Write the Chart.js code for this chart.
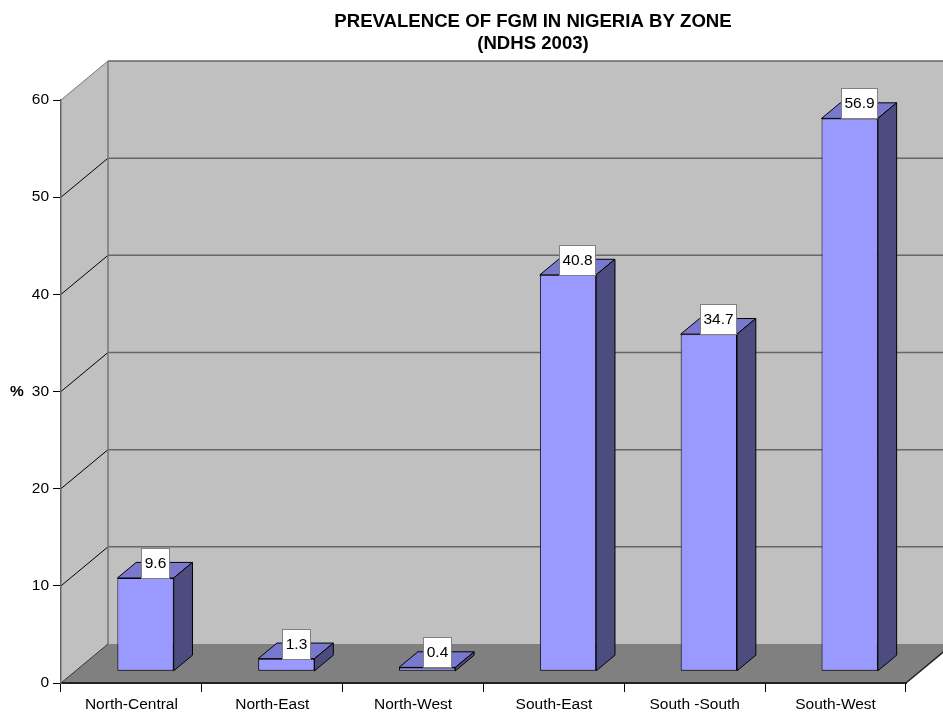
<!DOCTYPE html>
<html>
<head>
<meta charset="utf-8">
<script src="https://cdn.jsdelivr.net/npm/chart.js@4.4.1/dist/chart.umd.min.js"></script>
<style>
  body { margin: 0; background: #fff; }
</style>
</head>
<body>
<canvas id="myChart" width="943" height="714"></canvas>
<script>
const zones = ['North-Central', 'North-East', 'North-West', 'South-East', 'South -South', 'South-West'];
const prevalence = [9.6, 1.3, 0.4, 40.8, 34.7, 56.9];
const yTicks = [0, 10, 20, 30, 40, 50, 60];
const titleLines = ['PREVALENCE OF FGM IN NIGERIA BY ZONE', '(NDHS 2003)'];
const yTitle = '%';

const FONT = '"Liberation Sans", Arial, sans-serif';
// depth of the fake 3d box, front plane -> back wall
const DX = 47, DY = -39;
// bars stand between 30% and 70% of that depth
const BAR_FRONT = 0.3, BAR_BACK = 0.7;

function poly(ctx, pts, fill, stroke) {
  ctx.beginPath();
  ctx.moveTo(pts[0][0], pts[0][1]);
  for (let i = 1; i < pts.length; i++) ctx.lineTo(pts[i][0], pts[i][1]);
  ctx.closePath();
  if (fill) { ctx.fillStyle = fill; ctx.fill(); }
  if (stroke) { ctx.strokeStyle = stroke; ctx.lineWidth = 1; ctx.stroke(); }
}

function line(ctx, x1, y1, x2, y2, color, w) {
  ctx.beginPath();
  ctx.moveTo(x1, y1);
  ctx.lineTo(x2, y2);
  ctx.strokeStyle = color;
  ctx.lineWidth = w;
  ctx.stroke();
}

const wallsPlugin = {
  id: 'walls',
  beforeDraw(chart) {
    const ctx = chart.ctx;
    const ys = chart.scales.y;
    const a = chart.chartArea;
    const y0 = ys.getPixelForValue(0);
    const yTop = ys.getPixelForValue(60);
    ctx.save();

    // title
    ctx.fillStyle = '#000';
    ctx.textAlign = 'center';
    ctx.textBaseline = 'alphabetic';
    ctx.font = 'bold 18.6px ' + FONT;
    ctx.fillText(titleLines[0], 533, 26.5);
    ctx.fillText(titleLines[1], 533, 48.5);

    // y title, horizontal
    ctx.font = 'bold 15.5px ' + FONT;
    ctx.textBaseline = 'middle';
    ctx.fillText(yTitle, 17, (y0 + yTop) / 2);

    // left wall
    poly(ctx, [[a.left, yTop], [a.left + DX, yTop + DY], [a.left + DX, y0 + DY], [a.left, y0]], '#c0c0c0');
    // back wall
    ctx.fillStyle = '#c0c0c0';
    ctx.fillRect(a.left + DX, yTop + DY, a.right - a.left + 2, y0 - yTop);
    // floor
    poly(ctx, [[a.left, y0], [a.left + DX, y0 + DY], [a.right + DX, y0 + DY], [a.right, y0]], '#808080');

    // grid lines on back wall + diagonals on left wall
    yTicks.forEach(v => {
      if (v === 0) return;
      const y = ys.getPixelForValue(v);
      line(ctx, a.left + DX, y + DY, a.right + DX, y + DY, '#666', 1.5);
      line(ctx, a.left, y, a.left + DX, y + DY, v === 60 ? '#777' : '#000', 1);
    });
    line(ctx, a.left + DX, yTop + DY, a.left + DX, y0 + DY, '#777', 1.5);
    line(ctx, a.left, y0, a.left + DX, y0 + DY, '#333', 1);
    line(ctx, a.right, y0, a.right + DX, y0 + DY, '#222', 1.5);
    ctx.restore();
  }
};

const barsPlugin = {
  id: 'bars3d',
  beforeDatasetsDraw(chart) {
    chart.ctx.save();
    chart.ctx.translate(DX * BAR_FRONT, DY * BAR_FRONT);
  },
  afterDatasetsDraw(chart) {
    const ctx = chart.ctx;
    ctx.restore();
    ctx.save();
    const meta = chart.getDatasetMeta(0);
    const bx = DX * (BAR_BACK - BAR_FRONT), by = DY * (BAR_BACK - BAR_FRONT);
    meta.data.forEach((bar, i) => {
      const p = bar.getProps(['x', 'y', 'base', 'width'], true);
      const l = p.x - p.width / 2 + DX * BAR_FRONT;
      const r = p.x + p.width / 2 + DX * BAR_FRONT;
      const t = p.y + DY * BAR_FRONT;
      const b = p.base + DY * BAR_FRONT;
      poly(ctx, [[l, t], [l + bx, t + by], [r + bx, t + by], [r, t]], '#7878cc', '#000');
      poly(ctx, [[r, t], [r + bx, t + by], [r + bx, b + by], [r, b]], '#4c4c80', '#000');

      // value label box
      const text = String(prevalence[i]);
      ctx.font = '15.5px ' + FONT;
      const w = Math.round(ctx.measureText(text).width + 6);
      const cx = p.x + DX * (BAR_FRONT + BAR_BACK) / 2;
      const bxl = Math.round(cx - w / 2) + 0.5, bt = Math.round(t - 30) + 0.5;
      ctx.fillStyle = '#fff';
      ctx.fillRect(bxl, bt, w, 30);
      ctx.strokeStyle = '#808080';
      ctx.lineWidth = 1;
      ctx.strokeRect(bxl, bt, w, 30);
      ctx.fillStyle = '#000';
      ctx.textAlign = 'center';
      ctx.textBaseline = 'middle';
      ctx.fillText(text, bxl + w / 2, bt + 15.5);
    });
    ctx.restore();
  }
};

const ctx = document.getElementById('myChart').getContext('2d');
const myChart = new Chart(ctx, {
  type: 'bar',
  data: {
    labels: zones,
    datasets: [{
      data: prevalence,
      backgroundColor: '#9999ff',
      borderColor: '#000',
      borderWidth: 1,
      borderSkipped: false,
      barPercentage: 0.4,
      categoryPercentage: 1,
      clip: false
    }]
  },
  options: {
    responsive: false,
    animation: false,
    devicePixelRatio: 1,
    layout: { padding: { top: 100, right: 37, left: 0, bottom: 0 } },
    plugins: {
      legend: { display: false },
      tooltip: { enabled: false },
      title: { display: false }
    },
    scales: {
      x: {
        grid: { drawOnChartArea: false, tickLength: 9, color: '#000' },
        border: { color: '#222', width: 2 },
        ticks: { color: '#000', font: { family: FONT, size: 15.5 }, padding: 3, maxRotation: 0, autoSkip: false },
        afterFit(s) { s.height = 31; }
      },
      y: {
        min: 0,
        max: 60,
        ticks: { stepSize: 10, color: '#000', font: { family: FONT, size: 15.5 }, padding: 4 },
        grid: { drawOnChartArea: false, tickLength: 8, color: '#000' },
        border: { color: '#666', width: 1.5 },
        afterFit(s) { s.width = 61; }
      }
    }
  },
  plugins: [wallsPlugin, barsPlugin]
});
</script>
</body>
</html>
